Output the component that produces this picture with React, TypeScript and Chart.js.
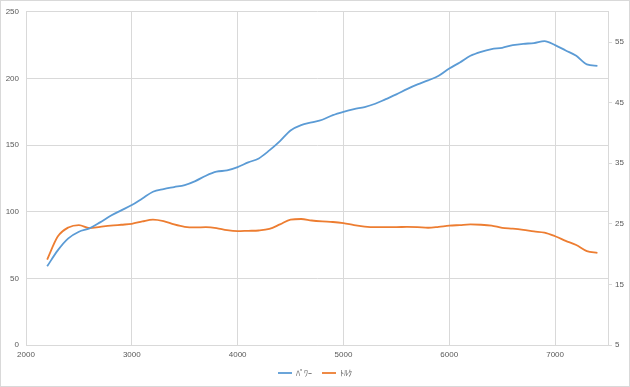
import React, { useEffect, useRef } from "react";
import { Chart, registerables } from "chart.js";

Chart.register(...registerables);

const rpm = [
  2200, 2300, 2400, 2500, 2600, 2700, 2800, 2900, 3000, 3100, 3200, 3300, 3400, 3500, 3600, 3700, 3800, 3900,
  4000, 4100, 4200, 4300, 4400, 4500, 4600, 4700, 4800, 4900, 5000, 5100, 5200, 5300, 5400, 5500, 5600, 5700,
  5800, 5900, 6000, 6100, 6200, 6300, 6400, 6500, 6600, 6700, 6800, 6900, 7000, 7100, 7200, 7300, 7400,
];

const power = [
  59, 71, 80, 85, 87.5, 92, 97, 101, 105, 110, 115, 117, 118.5, 120, 123, 127, 130, 131,
  133.5, 137, 140, 146, 153, 161, 165, 167, 169, 172.5, 175, 177, 178.5, 181, 184.5, 188, 192, 195.5,
  198.5, 202, 207.5, 212, 217, 220, 222, 223, 225, 226, 226.5, 228, 225, 221, 217, 210.5, 209.5,
];

const torque = [
  19.1, 22.9, 24.4, 24.8, 24.3, 24.5, 24.7, 24.85, 25.0, 25.4, 25.7, 25.45, 24.9, 24.5, 24.4, 24.45, 24.3, 23.95,
  23.8, 23.85, 23.9, 24.15, 24.9, 25.7, 25.8, 25.55, 25.4, 25.3, 25.1, 24.8, 24.55, 24.45, 24.45, 24.45, 24.5, 24.45,
  24.35, 24.5, 24.7, 24.8, 24.9, 24.85, 24.7, 24.35, 24.2, 24.0, 23.75, 23.55, 22.95, 22.2, 21.5, 20.5, 20.2,
];

const seriesLabels = ["ﾊﾟﾜｰ", "ﾄﾙｸ"];
const xTicks = [2000, 3000, 4000, 5000, 6000, 7000];
const leftTicks = [0, 50, 100, 150, 200, 250];
const rightTicks = [5, 15, 25, 35, 45, 55];

const W = 630;
const H = 387;

const borderPlugin = {
  id: "outerBorder",
  beforeDraw(chart: any) {
    const ctx = chart.ctx;
    ctx.save();
    ctx.fillStyle = "#ffffff";
    ctx.fillRect(0, 0, W, H);
    ctx.strokeStyle = "#d9d9d9";
    ctx.lineWidth = 1;
    ctx.strokeRect(0.5, 0.5, W - 1, H - 1);
    ctx.restore();
  },
};

export default function App() {
  const ref = useRef<HTMLCanvasElement | null>(null);

  useEffect(() => {
    if (!ref.current) return;
    const tickFont = { family: "'Liberation Sans', 'DejaVu Sans', sans-serif", size: 8 };
    const chart = new Chart(ref.current, {
      type: "line",
      data: {
        datasets: [
          {
            label: seriesLabels[0],
            data: rpm.map((x, i) => ({ x, y: power[i] })),
            borderColor: "#5b9bd5",
            backgroundColor: "#5b9bd5",
            borderWidth: 1.8,
            pointRadius: 0,
            cubicInterpolationMode: "monotone",
            yAxisID: "y",
          },
          {
            label: seriesLabels[1],
            data: rpm.map((x, i) => ({ x, y: torque[i] })),
            borderColor: "#ed7d31",
            backgroundColor: "#ed7d31",
            borderWidth: 1.8,
            pointRadius: 0,
            cubicInterpolationMode: "monotone",
            yAxisID: "y1",
          },
        ],
      },
      options: {
        responsive: false,
        animation: false,
        devicePixelRatio: 1,
        layout: { padding: { top: 10, left: 0, right: 0, bottom: 0 } },
        plugins: {
          tooltip: { enabled: false },
          legend: {
            position: "bottom",
            labels: {
              usePointStyle: true,
              pointStyle: "line",
              pointStyleWidth: 14,
              padding: 10,
              color: "#595959",
              font: { family: "'Noto Sans CJK JP', sans-serif", size: 8 },
            },
          },
        },
        scales: {
          x: {
            type: "linear",
            min: 2000,
            max: 7500,
            afterBuildTicks: (s: any) => {
              s.ticks = xTicks.map((v) => ({ value: v }));
            },
            afterFit: (s: any) => {
              s.height = 14;
            },
            ticks: {
              color: "#595959",
              font: tickFont,
              padding: 5,
              maxRotation: 0,
              callback: (v: any) => String(v),
            },
            grid: { color: "#d9d9d9", drawTicks: false },
            border: { color: "#d9d9d9" },
          },
          y: {
            position: "left",
            min: 0,
            max: 250,
            afterBuildTicks: (s: any) => {
              s.ticks = leftTicks.map((v) => ({ value: v }));
            },
            afterFit: (s: any) => {
              s.width = 26;
            },
            ticks: { color: "#595959", font: tickFont, padding: 7 },
            grid: { color: "#d9d9d9", drawTicks: false },
            border: { color: "#d9d9d9" },
          },
          y1: {
            position: "right",
            min: 5,
            max: 60,
            afterBuildTicks: (s: any) => {
              s.ticks = rightTicks.map((v) => ({ value: v }));
            },
            afterFit: (s: any) => {
              s.width = 22;
            },
            ticks: { color: "#595959", font: tickFont, padding: 3 },
            grid: { drawOnChartArea: false, drawTicks: true, tickLength: 4, color: "#d9d9d9" },
            border: { color: "#d9d9d9" },
          },
        },
      },
      plugins: [borderPlugin],
    } as any);
    return () => chart.destroy();
  }, []);

  return (
    <div style={{ position: "absolute", left: 0, top: 0, width: W, height: H }}>
      <canvas ref={ref} width={W} height={H} style={{ display: "block" }} />
    </div>
  );
}
